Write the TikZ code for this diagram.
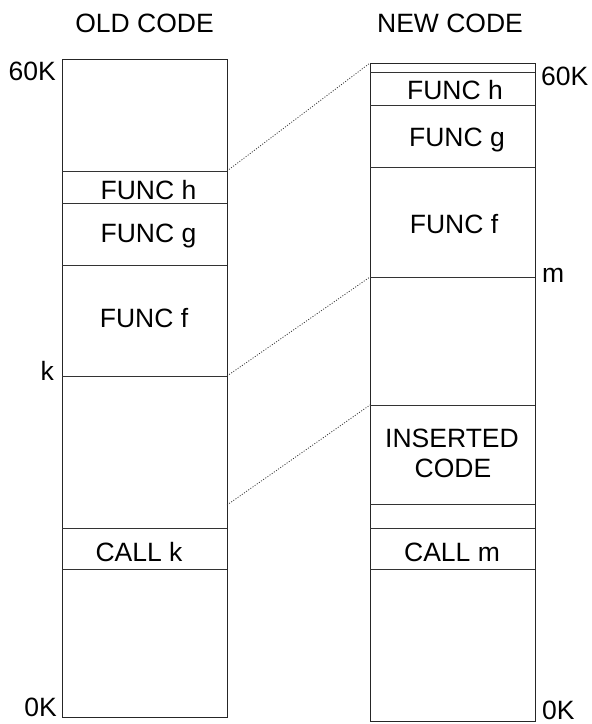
\documentclass[tikz,border=0pt]{standalone}
\usepackage{fontspec}
\setmainfont{Liberation Sans}
\begin{document}
\begin{tikzpicture}[x=1pt,y=-1pt,
  wall/.style={draw=black!85,line width=1pt},
  divider/.style={draw=black!80,line width=1pt},
  link/.style={draw=black!80,line width=0.8pt,dash pattern=on 1pt off 1.6pt},
  lbl/.style={font=\fontsize{26.5}{30}\selectfont,anchor=base,inner sep=0pt},
  lblr/.style={lbl,anchor=base east},
  lbll/.style={lbl,anchor=base west}]
\useasboundingbox (0,0) rectangle (592,724);

% ---- old code column ----
\coordinate (oTL) at (62,59);
\coordinate (oBR) at (227,717);
\draw[wall] (oTL) rectangle (oBR);
\foreach \yy/\nm in {171/oh,203/og,265/of,376/ok,528/oct,569/ocb}{
  \coordinate (\nm L) at (62,\yy);
  \coordinate (\nm R) at (227,\yy);
  \draw[divider] (\nm L) -- (\nm R);
}
\coordinate (oins) at (227,505);

% ---- new code column ----
\coordinate (nTL) at (370,63);
\coordinate (nBR) at (535,721);
\draw[wall] (nTL) rectangle (nBR);
\foreach \yy/\nm in {72/nh,105/ng,167/nf,277/nm,405/nit,504/nib,528/nct,569/ncb}{
  \coordinate (\nm L) at (370,\yy);
  \coordinate (\nm R) at (535,\yy);
  \draw[divider] (\nm L) -- (\nm R);
}
\coordinate (ntop) at (370,63);

% ---- headings ----
\node[lbl] (hold) at (144.5,32) {OLD CODE};
\node[lbl] (hnew) at (450,32) {NEW CODE};

% ---- address labels ----
\node[lblr] (a60o) at (56,80) {60K};
\node[lblr] (ako) at (54,380) {k};
\node[lblr] (a0o) at (57,716) {0K};
\node[lbll] (a60n) at (541,85) {60K};
\node[lbll] (amn) at (542,282) {m};
\node[lbll] (a0n) at (542,719.5) {0K};

% ---- block contents ----
\node[lbl] (fho) at (148.5,199) {FUNC h};
\node[lbl] (fgo) at (148.5,242) {FUNC g};
\node[lbl] (ffo) at (144,327) {FUNC f};
\node[lbl] (cko) at (139,561) {CALL k};

\node[lbl] (fhn) at (455,99) {FUNC h};
\node[lbl] (fgn) at (457,146) {FUNC g};
\node[lbl] (ffn) at (454,233) {FUNC f};
\node[lbl] (ins1) at (452,447) {INSERTED};
\node[lbl] (ins2) at (453,477) {CODE};
\node[lbl] (cmn) at (452,561) {CALL m};

% ---- relocation links ----
\draw[link] (ohR) -- (ntop);
\draw[link] (okR) -- (nmL);
\draw[link] (oins) -- (nitL);
\end{tikzpicture}
\end{document}
